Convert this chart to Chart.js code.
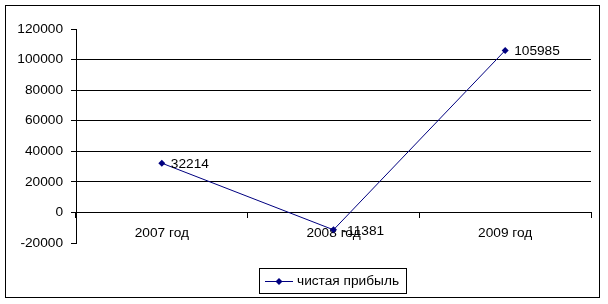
<!DOCTYPE html>
<html><head><meta charset="utf-8">
<script src="https://cdn.jsdelivr.net/npm/chart.js@4/dist/chart.umd.min.js"></script>
<style>html,body{margin:0;padding:0;background:#fff}#wrap{position:relative;width:608px;height:304px}</style>
</head><body><div id="wrap"><canvas id="c" width="608" height="304"></canvas></div>
<script>
const categories = ['2007 год', '2008 год', '2009 год'];
const profit = [32214, -11381, 105985];
const seriesName = 'чистая прибыль';
const yMin = -20000, yMax = 120000, yStep = 20000;

const FONT = 'Arial, "Liberation Sans", sans-serif';
const FS = 13.7;
const NAVY = '#000080';

const framePlugin = {
  id: 'frame',
  beforeDraw(chart) {
    const ctx = chart.ctx;
    ctx.save();
    ctx.fillStyle = '#fff';
    ctx.fillRect(0, 0, chart.width, chart.height);
    ctx.strokeStyle = '#000';
    ctx.lineWidth = 1;
    ctx.strokeRect(5.5, 5.5, 594, 292);
    ctx.restore();
  },
  afterDatasetsDraw(chart) {
    const ctx = chart.ctx;
    const meta = chart.getDatasetMeta(0);
    const ds = chart.data.datasets[0];
    ctx.save();
    ctx.font = FS + 'px ' + FONT;
    ctx.fillStyle = '#000';
    ctx.textBaseline = 'middle';
    ctx.textAlign = 'left';
    meta.data.forEach((pt, i) => {
      ctx.fillText(String(ds.data[i]), pt.x + 9, pt.y + 1);
    });
    // legend
    ctx.strokeStyle = '#000';
    ctx.lineWidth = 1;
    ctx.strokeRect(259.5, 268.5, 147, 25);
    ctx.strokeStyle = NAVY;
    ctx.beginPath();
    ctx.moveTo(265, 281.5); ctx.lineTo(293, 281.5); ctx.stroke();
    ctx.fillStyle = NAVY;
    ctx.beginPath();
    ctx.moveTo(279, 278); ctx.lineTo(282.5, 281.5); ctx.lineTo(279, 285); ctx.lineTo(275.5, 281.5); ctx.closePath(); ctx.fill();
    ctx.fillStyle = '#000';
    ctx.fillText(ds.label, 297, 281);
    ctx.restore();
  }
};

new Chart(document.getElementById('c'), {
  type: 'line',
  data: {
    labels: categories,
    datasets: [{
      label: seriesName,
      data: profit,
      borderColor: NAVY,
      backgroundColor: NAVY,
      borderWidth: 1,
      pointStyle: 'rectRot',
      pointRadius: 3.5,
      pointBorderWidth: 0,
      pointBackgroundColor: NAVY,
      tension: 0,
      clip: false
    }]
  },
  options: {
    responsive: false,
    animation: false,
    devicePixelRatio: 1,
    layout: { padding: { top: 29, right: 17, bottom: 61, left: 0 } },
    plugins: { legend: { display: false }, tooltip: { enabled: false } },
    scales: {
      x: {
        type: 'category',
        position: { y: 0 },
        offset: true,
        grid: { offset: true, drawOnChartArea: false, drawTicks: true, tickLength: 5, color: '#000', lineWidth: 1 },
        border: { display: true, color: '#000', width: 1 },
        ticks: { color: '#000', font: { family: FONT, size: FS }, padding: 8, maxRotation: 0 }
      },
      y: {
        min: yMin, max: yMax,
        afterFit(scale) { scale.width = 76; },
        grid: {
          color: c => (c.tick && (c.tick.value === yMax || c.tick.value === yMin || c.tick.value === 0)) ? 'rgba(0,0,0,0)' : '#000',
          tickColor: '#000',
          tickLength: 5,
          lineWidth: 1
        },
        border: { display: true, color: '#000', width: 1 },
        ticks: { stepSize: yStep, color: '#000', font: { family: FONT, size: FS }, padding: 8, callback: v => String(v) }
      }
    }
  },
  plugins: [framePlugin]
});
</script></body></html>
